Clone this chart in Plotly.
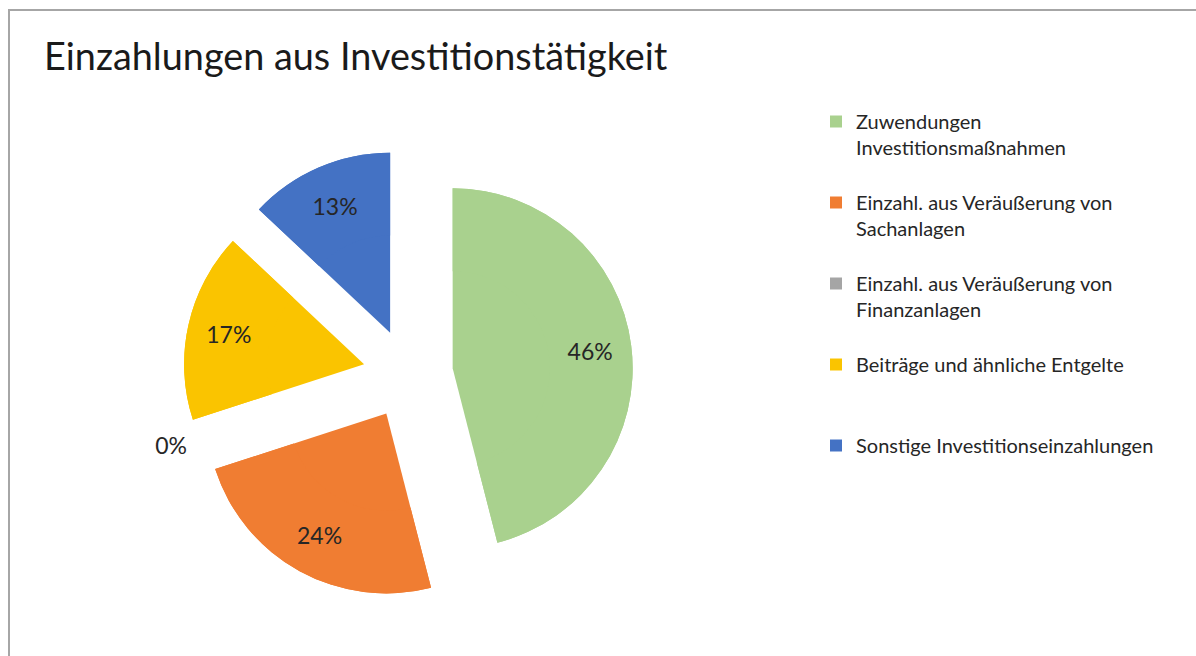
import plotly.graph_objects as go

# ---- data ----
labels = [
    "Zuwendungen Investitionsmaßnahmen",
    "Einzahl. aus Veräußerung von Sachanlagen",
    "Einzahl. aus Veräußerung von Finanzanlagen",
    "Beiträge und ähnliche Entgelte",
    "Sonstige Investitionseinzahlungen",
]
legend_lines = [
    ["Zuwendungen", "Investitionsmaßnahmen"],
    ["Einzahl. aus Veräußerung von", "Sachanlagen"],
    ["Einzahl. aus Veräußerung von", "Finanzanlagen"],
    ["Beiträge und ähnliche Entgelte"],
    ["Sonstige Investitionseinzahlungen"],
]
shares = [46, 24, 0, 17, 13]
colors = ["#A9D18E", "#F07D32", "#A5A5A5", "#FAC400", "#4472C4"]
title_text = "Einzahlungen aus Investitionstätigkeit"

# legend labels padded to three lines so every entry has the same height
legend_labels = ["<br>".join(l + [" "] * (3 - len(l))) for l in legend_lines]

W, H = 1196, 656
FONT = "Lato"
TXT = "#262626"

cx, cy, half = 408, 374, 225
domain = dict(x=[(cx - half) / W, (cx + half) / W],
              y=[1 - (cy + half) / H, 1 - (cy - half) / H])

common = dict(
    labels=legend_labels,
    values=shares,
    sort=False,
    direction="clockwise",
    rotation=0,
    pull=0.25,
    marker=dict(colors=colors, line=dict(width=0)),
    domain=domain,
    hovertext=labels,
    hoverinfo="text+percent",
)

fig = go.Figure()
# solid full pie (no text)
fig.add_trace(go.Pie(**common, textinfo="none", showlegend=False))
# ring on top carrying the percentage labels further out, like the original
fig.add_trace(go.Pie(
    **common,
    hole=0.54,
    texttemplate="%{percent:.0%}",
    textposition=["inside", "inside", "outside", "inside", "inside"],
    insidetextorientation="horizontal",
    textfont=dict(family=FONT, size=23, color=TXT),
    outsidetextfont=dict(family=FONT, size=23, color=TXT),
    showlegend=True,
))

fig.update_layout(
    width=W,
    height=H,
    margin=dict(l=0, r=0, t=0, b=0, autoexpand=False),
    paper_bgcolor="white",
    plot_bgcolor="white",
    title=dict(text=title_text, x=44 / W, xanchor="left", xref="container",
               y=1 - 57 / H, yanchor="middle", yref="container",
               font=dict(family=FONT, size=37.8, color="#1a1a1a")),
    legend=dict(x=816 / W, xanchor="left", y=1 - 102 / H, yanchor="top",
                font=dict(family=FONT, size=20, color=TXT),
                valign="top", traceorder="normal"),
    shapes=[dict(type="rect", xref="paper", yref="paper",
                 x0=9 / W, x1=1.05, y0=-0.05, y1=1 - 10 / H,
                 line=dict(color="#A6A6A6", width=2), fillcolor="rgba(0,0,0,0)")],
    font=dict(family=FONT),
)

fig.write_html("out.html", config={"displayModeBar": False},
               post_script="document.body.style.margin='0';")
